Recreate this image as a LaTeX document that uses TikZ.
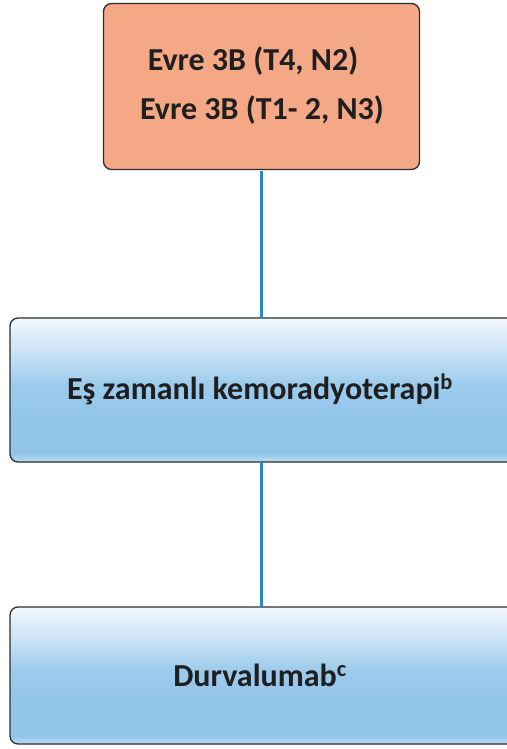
\documentclass[tikz,border=0pt]{standalone}
\usepackage{fontspec}
\setmainfont{Carlito}
\definecolor{stageorange}{HTML}{F4A886}
\definecolor{boxedge}{HTML}{2E2E2E}
\definecolor{linkblue}{HTML}{2A88C0}
\definecolor{gradA}{HTML}{F3F8FD}
\definecolor{gradB}{HTML}{C6E0F4}
\definecolor{gradC}{HTML}{9CCBEC}
\definecolor{gradD}{HTML}{92C4EA}
\definecolor{gradE}{HTML}{BFDCF2}
\pgfdeclareverticalshading{therapyshade}{100bp}{%
  color(0bp)=(gradE); color(25bp)=(gradE); color(28bp)=(gradD);
  color(40bp)=(gradD); color(52bp)=(gradC); color(62bp)=(gradB);
  color(75bp)=(gradA); color(100bp)=(gradA)}
\tikzset{
  stagebox/.style={draw=boxedge, line width=1.3pt, fill=stageorange,
    rounded corners=8pt, rectangle, inner sep=0pt},
  therapybox/.style={draw=boxedge, line width=1.3pt, shading=therapyshade,
    rounded corners=8pt, rectangle, inner sep=0pt},
  label/.style={font=\bfseries\fontsize{32}{36}\selectfont, text=black!88, anchor=base, inner sep=0pt},
  link/.style={draw=linkblue, line width=2.6pt}
}
\begin{document}
\begin{tikzpicture}[x=1pt,y=-1pt]
\useasboundingbox (0,0) rectangle (506,749);
% boxes
\node[stagebox, minimum width=316pt, minimum height=166pt] (stage) at (261.5,86.5) {};
\node[therapybox, minimum width=530pt, minimum height=144pt] (crt) at (275,390) {};
\node[therapybox, minimum width=530pt, minimum height=137pt] (durva) at (275,675.5) {};
% connectors
\draw[link] ([yshift=-0.7pt]stage.south) -- ([yshift=-0.7pt]stage.south |- crt.north);
\coordinate (crtlow) at ([yshift=0.7pt]stage.south |- crt.south);
\draw[link] (crtlow) -- ([yshift=-0.7pt]stage.south |- durva.north);
% texts
\node[label] (t1) at (253,71) {Evre 3B (T4, N2)};
\node[label] (t2) at (262,120) {Evre 3B (T1- 2, N3)};
\node[label] (t3) at (260,399) {Eş zamanlı kemoradyoterapi\textsuperscript{b}};
\node[label] (t4) at (260,686) {Durvalumab\textsuperscript{c}};
\end{tikzpicture}
\end{document}
